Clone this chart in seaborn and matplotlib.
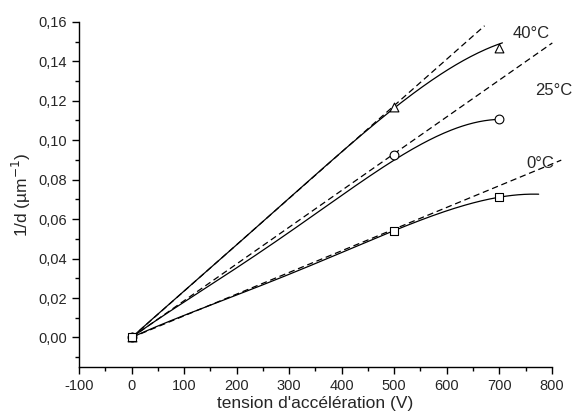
import numpy as np
import pandas as pd
import matplotlib
matplotlib.use("Agg")
import matplotlib.pyplot as plt
import seaborn as sns
from matplotlib.ticker import MultipleLocator, FuncFormatter

# measured points (tension in V, 1/d in um^-1)
tension = [0, 500, 700]
inv_d_40 = [0.0, 0.117, 0.1468]
inv_d_25 = [0.0, 0.0924, 0.111]
inv_d_0 = [0.0, 0.0538, 0.071]

# points
curve_x_40 = [0, 100, 200, 377, 500, 600, 706]
curve_y_40 = [0.0, 0.0235, 0.047, 0.0889, 0.116, 0.1356, 0.1493]
curve_x_25 = [0, 100, 200, 377, 500, 600, 700]
curve_y_25 = [0.0, 0.0178, 0.0357, 0.067, 0.0909, 0.1036, 0.1107]
curve_x_0 = [0, 100, 200, 377, 500, 600, 700, 775]
curve_y_0 = [0.0, 0.0109, 0.0218, 0.0406, 0.0538, 0.0645, 0.0711, 0.0726]

# dashed linear trends (start and end points)
dash_x_40 = [0, 672]
dash_y_40 = [0.0, 0.158]
dash_x_25 = [0, 801]
dash_y_25 = [0.0, 0.1493]
dash_x_0 = [0, 818]
dash_y_0 = [0.0, 0.0899]

labels = ["40°C", "25°C", "0°C"]
label_x = [760, 803, 778]
label_y = [0.154, 0.1254, 0.0884]

sns.set_style("ticks")
plt.rcParams['font.family'] = ['Liberation Sans', 'DejaVu Sans']
plt.rcParams['axes.unicode_minus'] = False

fig = plt.figure(figsize=(5.73, 4.20), dpi=100)
ax = fig.add_axes([0.138, 0.126, 0.825, 0.822])

series = [
    (inv_d_40, curve_x_40, curve_y_40, dash_x_40, dash_y_40, "^"),
    (inv_d_25, curve_x_25, curve_y_25, dash_x_25, dash_y_25, "o"),
    (inv_d_0, curve_x_0, curve_y_0, dash_x_0, dash_y_0, "s"),
]

for vals, cx, cy, dx, dy, mk in series:
    # smooth the read curve: polynomial through the origin
    u = np.asarray(cx, float) / 1000.0
    A = np.column_stack([u, u**2, u**3, u**4])
    coef, *_ = np.linalg.lstsq(A, np.asarray(cy), rcond=None)
    xs = np.linspace(0, cx[-1], 200)
    us = xs / 1000.0
    ys = np.column_stack([us, us**2, us**3, us**4]) @ coef
    fit_df = pd.DataFrame({"x": xs, "y": ys})
    sns.lineplot(data=fit_df, x="x", y="y", ax=ax, color="black", lw=0.9)
    line_df = pd.DataFrame({"x": dx, "y": dy})
    sns.lineplot(data=line_df, x="x", y="y", ax=ax, color="black", lw=0.9,
                 linestyle=(0, (5, 3)))
    ax.lines[-1].set_clip_on(False)
    pts = pd.DataFrame({"x": tension, "y": vals})
    sns.scatterplot(data=pts, x="x", y="y", ax=ax, marker=mk, s=40,
                    facecolor="white", edgecolor="black", linewidth=0.8, zorder=5)

for lab, lx, ly in zip(labels, label_x, label_y):
    ax.text(lx, ly, lab, fontsize=12, va="center", ha="center", clip_on=False)

ax.set_xlim(-100, 800)
ax.set_ylim(-0.015, 0.16)
ax.xaxis.set_major_locator(MultipleLocator(100))
ax.xaxis.set_minor_locator(MultipleLocator(50))
ax.yaxis.set_major_locator(MultipleLocator(0.02))
ax.yaxis.set_minor_locator(MultipleLocator(0.01))
ax.yaxis.set_major_formatter(FuncFormatter(lambda v, p: f"{v:.2f}".replace(".", ",").replace("-0,00", "0,00")))
ax.tick_params(which="major", length=5, width=1, labelsize=10.5, direction="out", color="black")
ax.tick_params(which="minor", length=3, width=1, direction="out", color="black")
sns.despine(ax=ax)
for sp in ["left", "bottom"]:
    ax.spines[sp].set_linewidth(1)
    ax.spines[sp].set_color("black")

ax.set_xlabel("tension d'accélération (V)", fontsize=12.5, labelpad=2)
ax.set_ylabel("1/d (µm$^{-1}$)", fontsize=12.5, labelpad=4)

fig.savefig("out.png", dpi=100)
